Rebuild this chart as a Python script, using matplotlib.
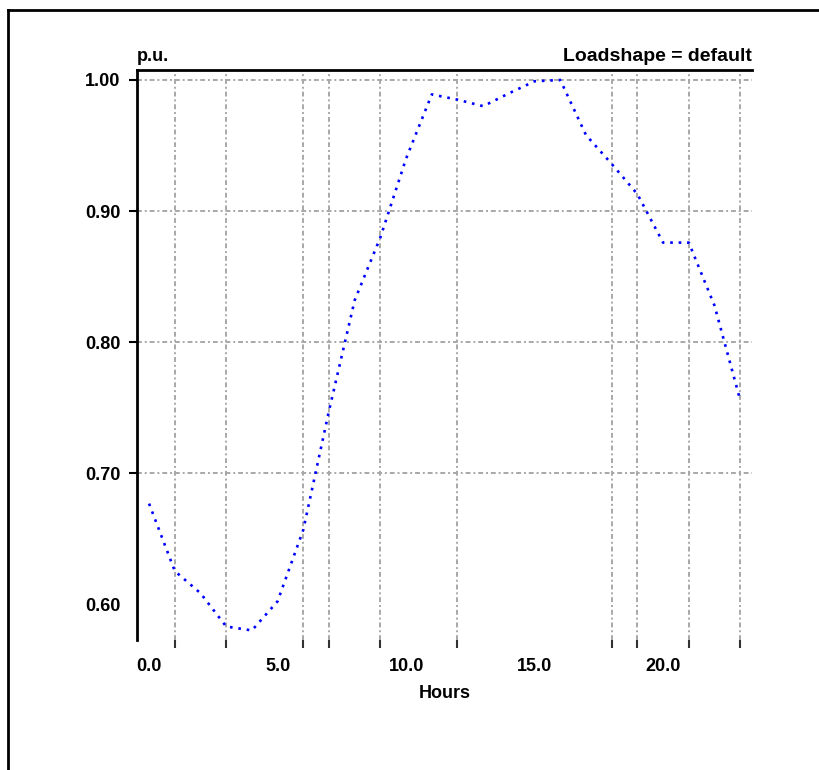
import matplotlib
matplotlib.use("Agg")
import matplotlib.pyplot as plt
from matplotlib.lines import Line2D

# OpenDSS default loadshape, 24 hourly multipliers
hours = list(range(24))
mult = [0.677, 0.6256, 0.6087, 0.5833, 0.58028, 0.6025, 0.657, 0.7477,
        0.832, 0.88, 0.94, 0.989, 0.985, 0.98, 0.9898, 0.999, 1.0, 0.958,
        0.936, 0.913, 0.876, 0.876, 0.828, 0.756]

x_labels = [0, 5, 10, 15, 20]
x_grid = [1, 3, 6, 7, 9, 10, 12, 15, 18, 19, 21, 23]
y_labels = [0.60, 0.70, 0.80, 0.90, 1.00]

fnt = ['Liberation Sans Narrow', 'Liberation Sans', 'DejaVu Sans']
plt.rcParams['font.family'] = fnt
plt.rcParams['font.weight'] = 'bold'

fig = plt.figure(figsize=(8.2, 7.7), dpi=100)
ax = fig.add_axes([137 / 820, 1 - 640 / 770, 615 / 820, 570 / 770])

grid_style = dict(color='#a8a8a8', linestyle=(0, (2.5, 1.5, 1, 1.5)), linewidth=1.4)

ax.plot(hours, mult, color='#0000ff', linestyle=(0, (1, 2.2)), linewidth=1.9, zorder=3)

ax.set_xlim(-0.47, 23.46)
ax.set_ylim(0.573, 1.0076)

ax.set_xticks(x_labels)
ax.set_xticklabels(['%.1f' % v for v in x_labels])
ax.set_xticks(x_grid, minor=True)
ax.set_yticks(y_labels)
ax.set_yticklabels(['%.2f' % v for v in y_labels])

ax.tick_params(axis='x', which='major', length=0, pad=13, labelsize=13)
ax.tick_params(axis='x', which='minor', length=6, width=1.5, color='#333333', direction='out')
ax.tick_params(axis='y', which='major', length=6, width=1.5, pad=6, labelsize=13)

ax.grid(axis='x', which='minor', **grid_style)
ax.grid(axis='y', which='major', **grid_style)
ax.yaxis.get_major_ticks()[0].tick1line.set_visible(False)
ax.yaxis.get_major_ticks()[0].gridline.set_visible(False)

for s in ['right', 'bottom']:
    ax.spines[s].set_visible(False)
ax.spines['left'].set_linewidth(2)
ax.spines['top'].set_linewidth(2)

ax.text(0, 1.008, 'p.u.', transform=ax.transAxes, ha='left', va='bottom', fontsize=13, fontweight='bold')
ax.text(1, 1.008, 'Loadshape = default', transform=ax.transAxes, ha='right', va='bottom',
        fontsize=14, fontweight='bold')
ax.set_xlabel('Hours', fontsize=13, fontweight='bold', labelpad=7)

# outer frame (left and top edges)
fig.add_artist(Line2D([8 / 820, 8 / 820], [0, 1 - 10 / 770], transform=fig.transFigure,
                      color='black', linewidth=2))
fig.add_artist(Line2D([8 / 820, 1], [1 - 10 / 770, 1 - 10 / 770], transform=fig.transFigure,
                      color='black', linewidth=2))

fig.savefig('out.png', dpi=100, facecolor='white')
